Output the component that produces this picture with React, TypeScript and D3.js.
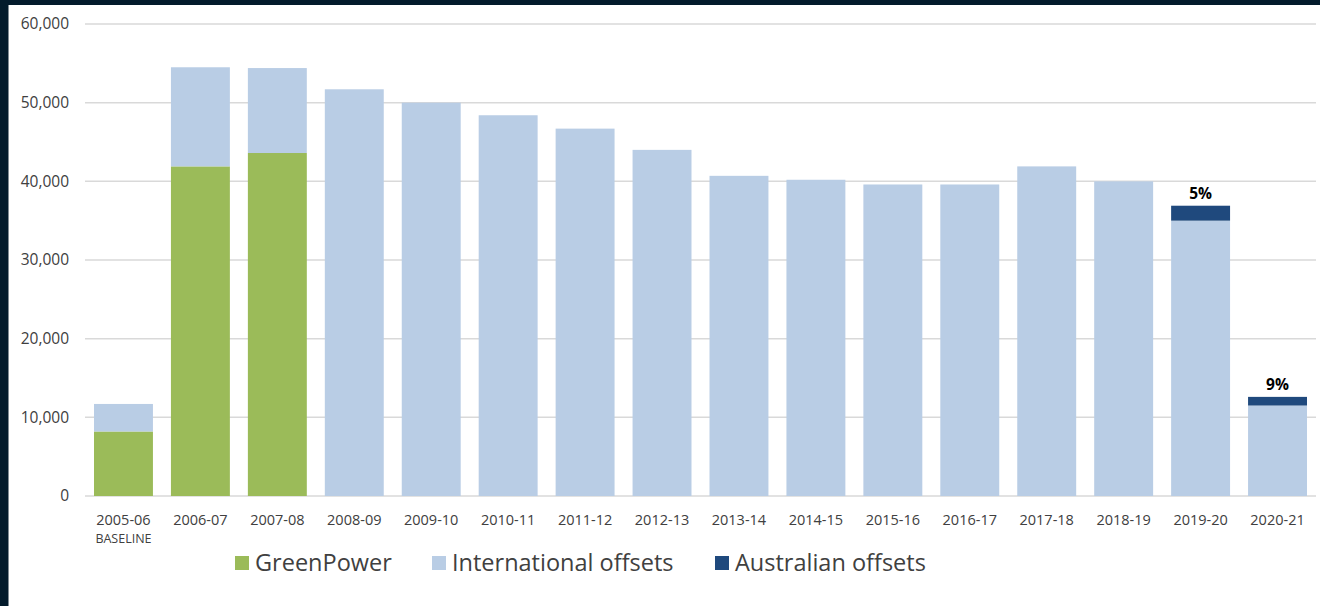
import * as d3 from "d3";
import React from "react";

const years = [
  "2005-06", "2006-07", "2007-08", "2008-09", "2009-10", "2010-11", "2011-12", "2012-13",
  "2013-14", "2014-15", "2015-16", "2016-17", "2017-18", "2018-19", "2019-20", "2020-21",
];
const greenPower = [8200, 41900, 43600, 0, 0, 0, 0, 0, 0, 0, 0, 0, 0, 0, 0, 0];
const international = [
  3500, 12600, 10800, 51700, 50000, 48400, 46700, 44000,
  40700, 40200, 39600, 39600, 41900, 40000, 35000, 11500,
];
const australian = [0, 0, 0, 0, 0, 0, 0, 0, 0, 0, 0, 0, 0, 0, 1900, 1100];
const shareLabels = ["", "", "", "", "", "", "", "", "", "", "", "", "", "", "5%", "9%"];
const yTicks = [0, 10000, 20000, 30000, 40000, 50000, 60000];

const seriesKeys = ["greenPower", "international", "australian"];
const seriesNames = ["GreenPower", "International offsets", "Australian offsets"];
const colors = ["#9bbb59", "#b9cde5", "#1f497d"];

const font = "'Open Sans', 'Noto Sans', sans-serif";

const W = 1320;
const H = 606;
const left = 85;
const right = 1316;
const top = 24;
const bottom = 496;

export default function App() {
  const rows = years.map((year, i) => ({
    year,
    greenPower: greenPower[i],
    international: international[i],
    australian: australian[i],
  }));
  const stack = d3.stack<any>().keys(seriesKeys)(rows);

  const x = d3.scaleBand().domain(years).range([left, right]).paddingInner(0.234).paddingOuter(0.117);
  const y = d3.scaleLinear().domain([0, 60000]).range([bottom, top]);
  const fmt = d3.format(",");

  const legendX = [235, 432, 715];

  return (
    <svg width={W} height={H} style={{ position: "absolute", left: 0, top: 0, display: "block", background: "#fff" }}>
      <rect x={0} y={0} width={W} height={5} fill="#031b2c" />
      <rect x={0} y={0} width={8.5} height={H} fill="#031b2c" />

      {yTicks.map((t) => (
        <g key={t}>
          <line x1={left} x2={right} y1={y(t)} y2={y(t)} stroke="#d9d9d9" strokeWidth={1.5} />
          <text x={69} y={y(t)} dy="0.35em" textAnchor="end" fontFamily={font} fontSize={15.5} fill="#404040">
            {fmt(t)}
          </text>
        </g>
      ))}

      {stack.map((s, si) => (
        <g key={s.key} fill={colors[si]}>
          {s.map((d, i) =>
            d[1] > d[0] ? (
              <rect key={i} x={x(years[i])} width={x.bandwidth()} y={y(d[1])} height={y(d[0]) - y(d[1])} />
            ) : null
          )}
        </g>
      ))}

      {years.map((yr, i) =>
        shareLabels[i] ? (
          <text
            key={yr}
            x={(x(yr) as number) + x.bandwidth() / 2}
            y={y(stack[2][i][1]) - 7}
            textAnchor="middle"
            fontFamily={font}
            fontWeight="bold"
            fontSize={15.5}
            fill="#000"
          >
            {shareLabels[i]}
          </text>
        ) : null
      )}

      {years.map((yr, i) => (
        <text
          key={yr}
          x={(x(yr) as number) + x.bandwidth() / 2}
          y={525}
          textAnchor="middle"
          fontFamily={font}
          fontSize={14.5}
          fill="#404040"
        >
          {yr}
        </text>
      ))}
      <text
        x={(x(years[0]) as number) + x.bandwidth() / 2}
        y={543}
        textAnchor="middle"
        fontFamily={font}
        fontSize={12.5}
        fill="#404040"
      >
        BASELINE
      </text>

      {seriesNames.map((name, i) => (
        <g key={name} transform={`translate(${legendX[i]},563)`}>
          <rect x={0} y={-7} width={14} height={14} fill={colors[i]} />
          <text x={20} y={0} dy="0.35em" fontFamily={font} fontSize={23.5} fill="#404040">
            {name}
          </text>
        </g>
      ))}
    </svg>
  );
}
